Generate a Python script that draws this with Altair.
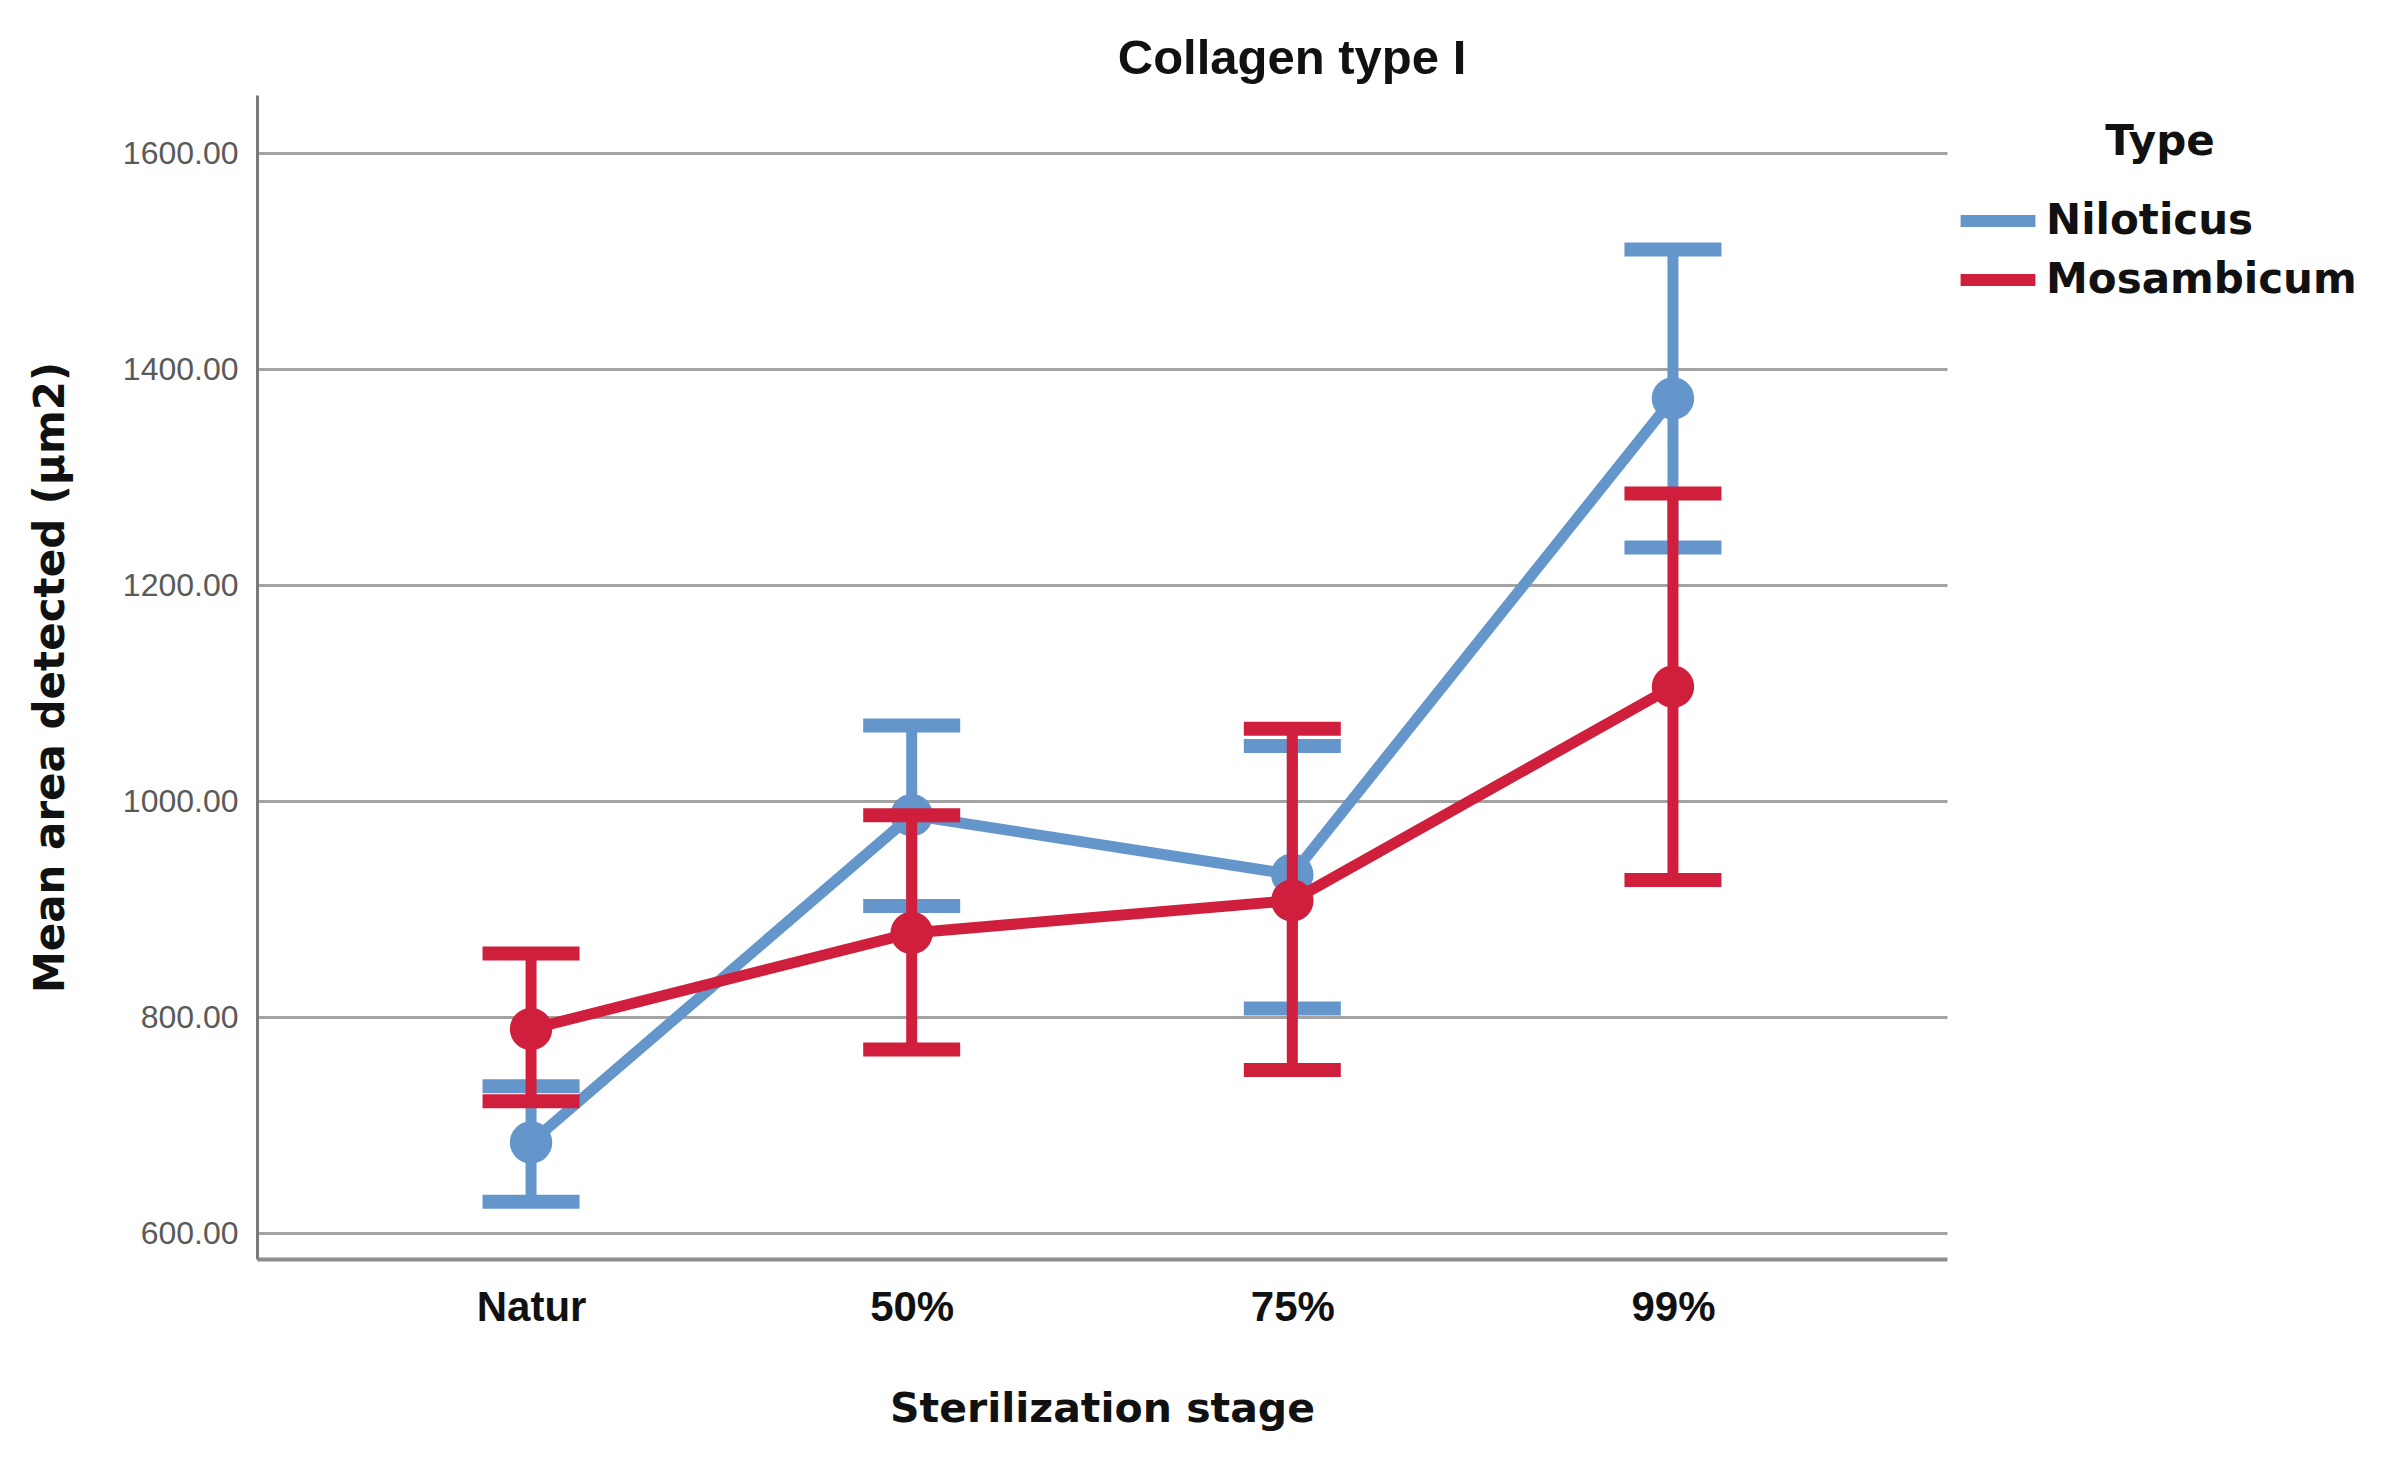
import altair as alt
import pandas as pd

# ---- data ----
stages = ["Natur", "50%", "75%", "99%"]
types = ["Niloticus", "Mosambicum"]

nil_mean = [684, 987, 932, 1373]
nil_upper = [736, 1070, 1051, 1511]
nil_lower = [629, 903, 808, 1235]

mos_mean = [789, 878, 908, 1106]
mos_upper = [859, 987, 1067, 1285]
mos_lower = [722, 770, 751, 927]

y_ticks = [600, 800, 1000, 1200, 1400, 1600]
colors = ["#6496cc", "#d01f3c"]

rows = []
for t, m, u, l in [("Niloticus", nil_mean, nil_upper, nil_lower),
                   ("Mosambicum", mos_mean, mos_upper, mos_lower)]:
    for s, mm, uu, ll in zip(stages, m, u, l):
        rows.append({"Type": t, "stage": s, "mean": mm, "upper": uu, "lower": ll})
df = pd.DataFrame(rows)

Y_TITLE = "Mean area detected (µm2)"
X_TITLE = "Sterilization stage"

x_axis = alt.Axis(
    labelAngle=0, ticks=False, grid=False,
    domainColor="#8c8c8c", domainWidth=4,
    labelFont="Liberation Sans", labelFontWeight="bold", labelFontSize=42,
    labelColor="#111111", labelPadding=28,
    titleFont="DejaVu Sans", titleFontWeight="bold", titleFontSize=41,
    titleColor="#111111", titlePadding=61,
)
y_axis = alt.Axis(
    values=y_ticks, format=".2f", ticks=False,
    grid=True, gridColor="#a3a3a3", gridWidth=3,
    domainColor="#7a7a7a", domainWidth=3,
    labelFont="Liberation Sans", labelFontSize=32, labelColor="#5a5a5a",
    labelPadding=19,
    titleFont="DejaVu Sans", titleFontWeight="bold", titleFontSize=42,
    titleColor="#111111", titlePadding=50,
)
y_scale = alt.Scale(domain=[576, 1654], nice=False, zero=False)
x_scale = alt.Scale(type="point", padding=0.72)


def X():
    return alt.X("stage:N", sort=stages, scale=x_scale, axis=x_axis, title=X_TITLE)


def Y(field):
    return alt.Y(f"{field}:Q", scale=y_scale, axis=y_axis, title=Y_TITLE)


legend = alt.Legend(
    orient="none", legendX=1706, legendY=27,
    symbolType="M-1.29,0H1.29", symbolStrokeWidth=12, symbolSize=3364,
    labelFont="DejaVu Sans", labelFontWeight="bold", labelFontSize=42,
    labelColor="#111111", labelOffset=13, labelLimit=0,
    title="Type", titleFont="DejaVu Sans", titleFontWeight="bold",
    titleFontSize=42, titleColor="#111111", titleAlign="center",
    titleAnchor="middle", titlePadding=22, rowPadding=0,
)

color = alt.Color("Type:N", scale=alt.Scale(domain=types, range=colors), legend=legend)

layers = []
for t in types:
    base = alt.Chart(df).transform_filter(alt.datum.Type == t)
    line = base.mark_line(strokeWidth=11).encode(
        x=X(), y=Y("mean"), color=color)
    stem = base.mark_rule(strokeWidth=11).encode(
        x=X(), y=Y("lower"), y2="upper:Q", color=color)
    cap_hi = base.mark_tick(size=97, thickness=14, opacity=1).encode(
        x=X(), y=Y("upper"), color=color)
    cap_lo = base.mark_tick(size=97, thickness=14, opacity=1).encode(
        x=X(), y=Y("lower"), color=color)
    pts = base.mark_circle(size=1800, opacity=1).encode(
        x=X(), y=Y("mean"), color=color)
    layers += [line, stem, cap_hi, cap_lo, pts]

chart = alt.layer(*layers).properties(
    width=1690, height=1164,
    title=alt.TitleParams(
        "Collagen type I", font="Liberation Sans", fontSize=49,
        fontWeight="bold", color="#111111", anchor="middle", dx=190, offset=11,
    ),
    padding={"left": 21, "top": 27, "right": 10, "bottom": 10},
    background="white",
).configure_view(stroke=None)

chart.save("out.html", embed_options={"renderer": "svg", "actions": False})
